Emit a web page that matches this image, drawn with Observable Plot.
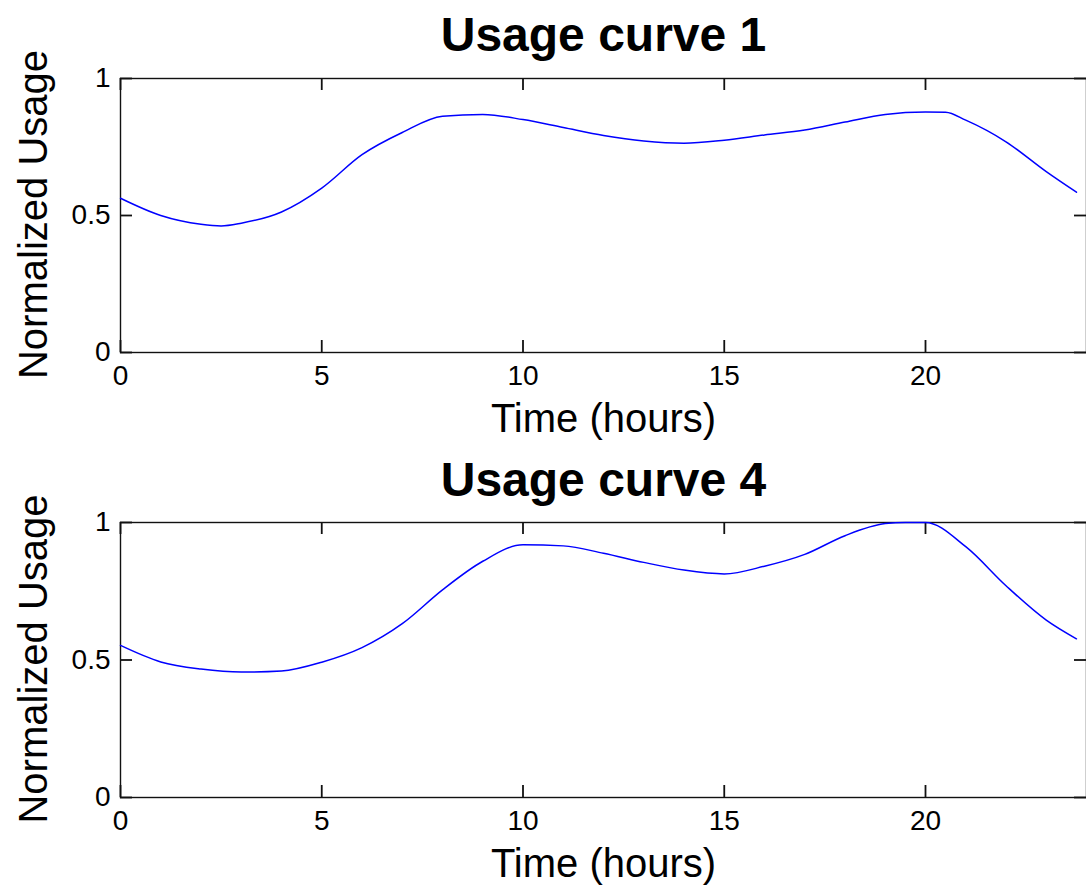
<!DOCTYPE html>
<html>
<head>
<meta charset="utf-8">
<script src="https://cdn.jsdelivr.net/npm/d3@7"></script>
<script src="https://cdn.jsdelivr.net/npm/@observablehq/plot@0.6"></script>
<style>
  html, body { margin: 0; padding: 0; background: #fff; }
  #wrap { position: relative; width: 1086px; height: 890px; overflow: hidden; }
  #wrap > div { position: absolute; left: 0; }
</style>
</head>
<body>
<div id="wrap"><div id="p1" style="top:0px"></div><div id="p2" style="top:445px"></div></div>
<script>
// ---- data ----
const titles = ["Usage curve 1", "Usage curve 4"];
const xLabel = "Time (hours)";
const yLabel = "Normalized Usage";
const xTicks = [0, 5, 10, 15, 20];
const yTicks = [0, 0.5, 1];
const yTickLabels = ["0", "0.5", "1"];

const hours1 = [0, 1, 2, 2.5, 3, 4, 5, 6, 7, 8, 9, 10, 11, 12, 13, 14, 15, 16, 17, 18, 19, 20, 20.5, 21, 22, 23, 23.75];
const usage1 = [0.563, 0.500, 0.468, 0.462, 0.472, 0.513, 0.600, 0.722, 0.803, 0.862, 0.869, 0.850, 0.821, 0.792, 0.772, 0.764, 0.775, 0.794, 0.812, 0.841, 0.869, 0.878, 0.877, 0.848, 0.769, 0.660, 0.585];

const hours4 = [0, 1, 2, 3, 4, 5, 6, 7, 8, 9, 10, 11, 12, 13, 14, 15, 16, 17, 18, 19, 19.5, 20, 21, 22, 23, 23.75];
const usage4 = [0.553, 0.493, 0.467, 0.456, 0.460, 0.492, 0.545, 0.632, 0.755, 0.859, 0.919, 0.915, 0.888, 0.855, 0.827, 0.813, 0.841, 0.884, 0.952, 0.996, 1.0, 1.0, 0.912, 0.770, 0.645, 0.577];

const FONT = "'Liberation Sans', Arial, Helvetica, sans-serif";

function makePlot(title, hours, usage, marginTop) {
  const W = 1086, H = 445, mB = 93, mL = 120, mR = 0, TICK = 12;
  const frameH = H - marginTop - mB;
  const frameW = W - mL - mR;
  const data = hours.map((h, i) => ({h, u: usage[i]}));
  const fmt = d => yTickLabels[yTicks.indexOf(d)];
  const tk = {stroke: "#111", strokeWidth: 1.8};
  return Plot.plot({
    width: W,
    height: H,
    marginTop,
    marginBottom: mB,
    marginLeft: mL,
    marginRight: mR,
    style: {fontFamily: FONT, fontSize: "28px", background: "white", overflow: "visible"},
    x: {domain: [0, 24]},
    y: {domain: [0, 1]},
    marks: [
      Plot.frame({stroke: "#111", strokeWidth: 1.4}),
      // inward tick marks on all four sides
      Plot.tickX(xTicks, {x: d => d, insetTop: frameH - TICK, ...tk}),
      Plot.tickX(xTicks, {x: d => d, insetBottom: frameH - TICK, ...tk}),
      Plot.tickY(yTicks, {y: d => d, insetRight: frameW - TICK, ...tk}),
      Plot.tickY(yTicks, {y: d => d, insetLeft: frameW - TICK, ...tk}),
      // tick labels
      Plot.axisX(xTicks, {anchor: "bottom", tickSize: 0, tickPadding: 13, fill: "black", label: null}),
      Plot.axisY(yTicks, {anchor: "left", tickSize: 0, tickPadding: 10, tickFormat: fmt, fill: "black", label: null}),
      // data line
      Plot.line(data, {x: "h", y: "u", stroke: "#0000ff", strokeWidth: 1.5, curve: "monotone-x"}),
      // title
      Plot.text([title], {frameAnchor: "top", textAnchor: "middle", lineAnchor: "middle", dy: 50 - 0.32 * 48 - marginTop, fontSize: 48, fontWeight: "bold", fill: "black"}),
      // x label
      Plot.text([xLabel], {frameAnchor: "bottom", textAnchor: "middle", lineAnchor: "middle", dy: 79 - 0.32 * 40, fontSize: 40, fill: "black"}),
      // y label
      Plot.text([yLabel], {frameAnchor: "left", textAnchor: "middle", lineAnchor: "middle", rotate: -90, dx: 34 - mL, dy: -1, fontSize: 40, fill: "black"})
    ]
  });
}

document.getElementById("p1").appendChild(makePlot(titles[0], hours1, usage1, 78));
document.getElementById("p2").appendChild(makePlot(titles[1], hours4, usage4, 77));
</script>
</body>
</html>
